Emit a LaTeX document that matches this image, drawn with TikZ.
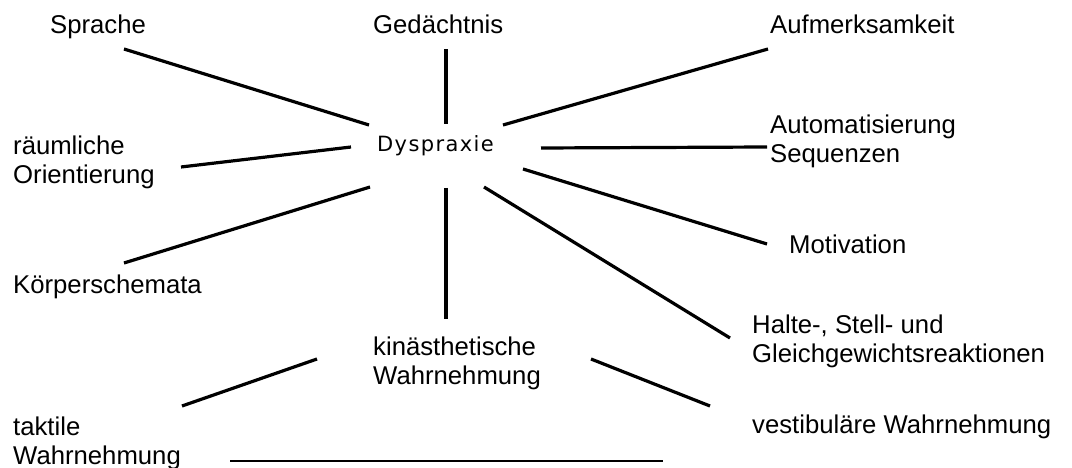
\documentclass[tikz,border=0pt]{standalone}
\usepackage{fontspec}
\setmainfont{Liberation Sans}
\newfontfamily\dysfont{DejaVu Sans}[LetterSpace=6.5]
\begin{document}
\begin{tikzpicture}[x=1pt,y=-1pt,
  lbl/.style={inner sep=0pt,anchor=base west,align=left,font=\fontsize{25.7}{29}\selectfont},
  conn/.style={line width=3.2pt},
  thin/.style={line width=2pt}]
\useasboundingbox[fill=white] (0,0) rectangle (1072,468);
% labels
\node[lbl] (spr) at (50,34) {Sprache};
\node[lbl] (ged) at (373,34) {Gedächtnis};
\node[lbl] (auf) at (770,34) {Aufmerksamkeit};
\node[lbl] (rau) at (13,184) {räumliche\\Orientierung};
\node[inner sep=0pt,anchor=base west,font=\dysfont\fontsize{21}{24}\selectfont] (dys) at (377,152) {Dyspraxie};
\node[lbl] (aut) at (770,163) {Automatisierung\\Sequenzen};
\node[lbl] (mot) at (789,253) {Motivation};
\node[lbl] (koe) at (13,293) {Körperschemata};
\node[lbl] (kin) at (373,384) {kinästhetische\\Wahrnehmung};
\node[lbl] (hal) at (752,362) {Halte-, Stell- und\\Gleichgewichtsreaktionen};
\node[lbl] (ves) at (752,433) {vestibuläre Wahrnehmung};
\node[lbl] (tak) at (13,464) {taktile\\Wahrnehmung};
% connector end points
\coordinate (spr-e) at (124,49);   \coordinate (dys-spr) at (369,125);
\coordinate (ged-e) at (446,49);   \coordinate (dys-ged) at (446,124);
\coordinate (auf-e) at (768,49);   \coordinate (dys-auf) at (503,125);
\coordinate (rau-e) at (181,167);  \coordinate (dys-rau) at (351,147);
\coordinate (aut-e) at (767,147);  \coordinate (dys-aut) at (541,148);
\coordinate (mot-e) at (767,244);  \coordinate (dys-mot) at (523,169);
\coordinate (hal-e) at (730,338);  \coordinate (dys-hal) at (484,187);
\coordinate (koe-e) at (124,263);  \coordinate (dys-koe) at (370,187);
\coordinate (kin-e) at (446,319);  \coordinate (dys-kin) at (446,188);
\coordinate (tak-e) at (182,406);  \coordinate (kin-tak) at (317,359);
\coordinate (ves-e) at (710,406);  \coordinate (kin-ves) at (591,359);
\coordinate (tak-b) at (230,461);  \coordinate (ves-b) at (663,461);
% connectors
\draw[conn] (dys-spr) -- (spr-e);
\draw[conn] (dys-ged) -- (ged-e);
\draw[conn] (dys-auf) -- (auf-e);
\draw[conn] (dys-rau) -- (rau-e);
\draw[conn] (dys-aut) -- (aut-e);
\draw[conn] (dys-mot) -- (mot-e);
\draw[conn] (dys-hal) -- (hal-e);
\draw[conn] (dys-koe) -- (koe-e);
\draw[conn] (dys-kin) -- (kin-e);
\draw[conn] (kin-tak) -- (tak-e);
\draw[conn] (kin-ves) -- (ves-e);
\draw[thin] (tak-b) -- (ves-b);
\end{tikzpicture}
\end{document}
